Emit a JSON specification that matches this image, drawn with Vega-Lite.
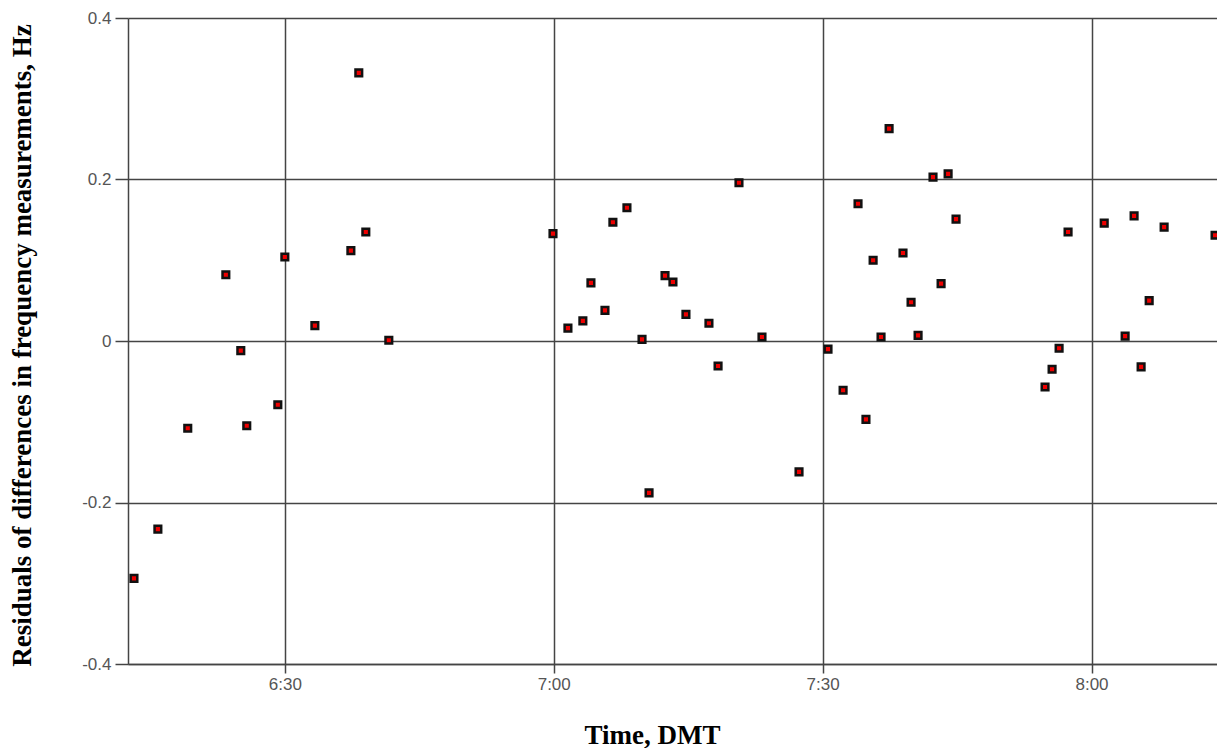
{
  "$schema": "https://vega.github.io/schema/vega-lite/v6.json",
  "width": 1089,
  "height": 646,
  "autosize": {"type": "none"},
  "padding": {"left": 128, "top": 18, "right": 0, "bottom": 84},
  "background": "white",
  "config": {"view": {"stroke": null}},
  "data": {"values": [
    {"time": "2000-01-01T06:13:10", "residual": -0.294},
    {"time": "2000-01-01T06:15:50", "residual": -0.233},
    {"time": "2000-01-01T06:19:10", "residual": -0.108},
    {"time": "2000-01-01T06:23:25", "residual": 0.082},
    {"time": "2000-01-01T06:25:05", "residual": -0.012},
    {"time": "2000-01-01T06:25:45", "residual": -0.105},
    {"time": "2000-01-01T06:29:13", "residual": -0.079},
    {"time": "2000-01-01T06:30:00", "residual": 0.104},
    {"time": "2000-01-01T06:33:21", "residual": 0.019},
    {"time": "2000-01-01T06:37:22", "residual": 0.112},
    {"time": "2000-01-01T06:38:15", "residual": 0.332},
    {"time": "2000-01-01T06:39:02", "residual": 0.135},
    {"time": "2000-01-01T06:41:36", "residual": 0.001},
    {"time": "2000-01-01T06:59:55", "residual": 0.133},
    {"time": "2000-01-01T07:01:35", "residual": 0.016},
    {"time": "2000-01-01T07:03:15", "residual": 0.025},
    {"time": "2000-01-01T07:04:09", "residual": 0.072},
    {"time": "2000-01-01T07:05:43", "residual": 0.038},
    {"time": "2000-01-01T07:06:36", "residual": 0.147},
    {"time": "2000-01-01T07:08:10", "residual": 0.165},
    {"time": "2000-01-01T07:09:51", "residual": 0.002},
    {"time": "2000-01-01T07:10:38", "residual": -0.188},
    {"time": "2000-01-01T07:12:25", "residual": 0.081},
    {"time": "2000-01-01T07:13:18", "residual": 0.073},
    {"time": "2000-01-01T07:14:45", "residual": 0.033},
    {"time": "2000-01-01T07:17:19", "residual": 0.022},
    {"time": "2000-01-01T07:18:20", "residual": -0.031},
    {"time": "2000-01-01T07:20:40", "residual": 0.196},
    {"time": "2000-01-01T07:23:14", "residual": 0.005},
    {"time": "2000-01-01T07:27:22", "residual": -0.162},
    {"time": "2000-01-01T07:30:36", "residual": -0.010},
    {"time": "2000-01-01T07:32:17", "residual": -0.061},
    {"time": "2000-01-01T07:33:57", "residual": 0.170},
    {"time": "2000-01-01T07:34:50", "residual": -0.097},
    {"time": "2000-01-01T07:35:38", "residual": 0.100},
    {"time": "2000-01-01T07:36:31", "residual": 0.005},
    {"time": "2000-01-01T07:37:25", "residual": 0.263},
    {"time": "2000-01-01T07:38:58", "residual": 0.109},
    {"time": "2000-01-01T07:39:52", "residual": 0.048},
    {"time": "2000-01-01T07:40:39", "residual": 0.007},
    {"time": "2000-01-01T07:42:19", "residual": 0.203},
    {"time": "2000-01-01T07:43:13", "residual": 0.071},
    {"time": "2000-01-01T07:44:00", "residual": 0.207},
    {"time": "2000-01-01T07:44:53", "residual": 0.151},
    {"time": "2000-01-01T07:54:49", "residual": -0.057},
    {"time": "2000-01-01T07:55:36", "residual": -0.035},
    {"time": "2000-01-01T07:56:23", "residual": -0.009},
    {"time": "2000-01-01T07:57:23", "residual": 0.135},
    {"time": "2000-01-01T08:01:25", "residual": 0.146},
    {"time": "2000-01-01T08:03:45", "residual": 0.006},
    {"time": "2000-01-01T08:04:45", "residual": 0.155},
    {"time": "2000-01-01T08:05:32", "residual": -0.032},
    {"time": "2000-01-01T08:06:26", "residual": 0.050},
    {"time": "2000-01-01T08:08:06", "residual": 0.141},
    {"time": "2000-01-01T08:13:47", "residual": 0.131}
  ]},
  "mark": {"type": "point", "shape": "square", "filled": true, "fill": "#ee0000", "stroke": "#111111", "strokeWidth": 2.5, "size": 44, "opacity": 1},
  "encoding": {
    "x": {
      "field": "time", "type": "temporal",
      "scale": {"domain": [
        {"year": 2000, "month": 1, "date": 1, "hours": 6, "minutes": 12, "seconds": 30},
        {"year": 2000, "month": 1, "date": 1, "hours": 8, "minutes": 14, "seconds": 0}
      ], "nice": false},
      "axis": {
        "title": "Time, DMT",
        "format": "%-H:%M",
        "values": [
          {"year": 2000, "month": 1, "date": 1, "hours": 6, "minutes": 30},
          {"year": 2000, "month": 1, "date": 1, "hours": 7, "minutes": 0},
          {"year": 2000, "month": 1, "date": 1, "hours": 7, "minutes": 30},
          {"year": 2000, "month": 1, "date": 1, "hours": 8, "minutes": 0}
        ],
        "grid": true, "gridColor": "#444444", "gridWidth": 1.5, "gridOpacity": 1,
        "domainColor": "#444444", "domainWidth": 1.5,
        "tickColor": "#444444", "tickWidth": 1.5, "tickSize": 9,
        "labelFont": "Liberation Sans", "labelFontSize": 17, "labelColor": "#555555", "labelPadding": 3,
        "titleFont": "Liberation Serif", "titleFontSize": 27, "titleFontWeight": "bold", "titleColor": "#000000",
        "titleX": 524, "titleY": 79, "titleAlign": "center", "titleBaseline": "alphabetic"
      }
    },
    "y": {
      "field": "residual", "type": "quantitative",
      "scale": {"domain": [-0.4, 0.4], "nice": false},
      "axis": {
        "title": "Residuals of differences in frequency measurements, Hz",
        "values": [-0.4, -0.2, 0, 0.2, 0.4],
        "labelExpr": "datum.value == 0 ? '0' : (datum.value < 0 ? '-' : '') + format(abs(datum.value), '.1f')",
        "grid": true, "gridColor": "#444444", "gridWidth": 1.5, "gridOpacity": 1,
        "domainColor": "#444444", "domainWidth": 1.5,
        "tickColor": "#444444", "tickWidth": 1.5, "tickSize": 13,
        "labelFont": "Liberation Sans", "labelFontSize": 17, "labelColor": "#555555", "labelPadding": 4,
        "titleFont": "Liberation Serif", "titleFontSize": 27, "titleFontWeight": "bold", "titleColor": "#000000",
        "titleX": -98, "titleY": 327, "titleAngle": -90, "titleAlign": "center", "titleBaseline": "alphabetic"
      }
    }
  }
}
